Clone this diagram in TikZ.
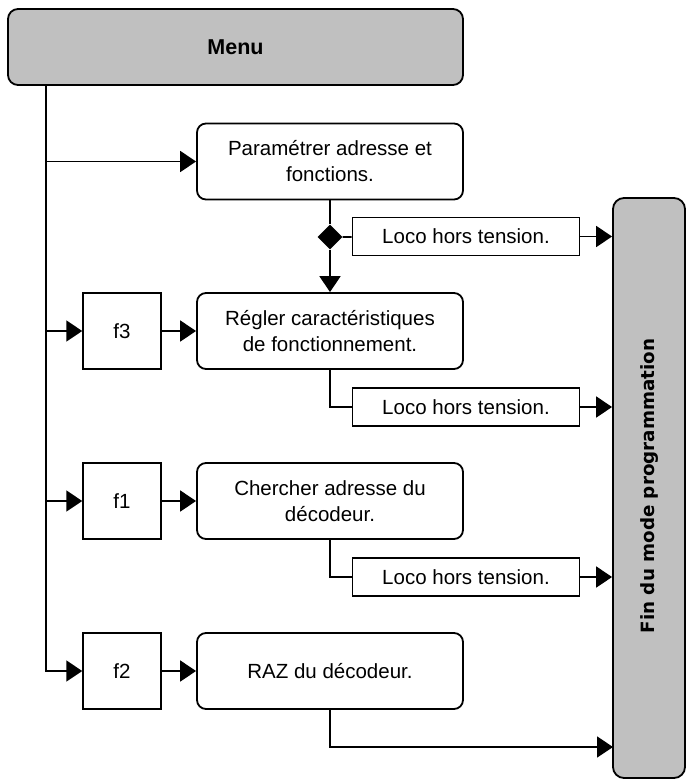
\documentclass[tikz,border=0pt]{standalone}
\usepackage{fontspec}
\setmainfont{Liberation Sans}
\newfontfamily\finFont{DejaVu Sans}
\usetikzlibrary{positioning, shapes.geometric, arrows.meta}
\tikzstyle{diagram} = [x = 1pt, y = -1pt]
\definecolor{boxGray}{RGB}{192,192,192}
\newcommand{\boxFont}{\fontsize{20.5}{26}\selectfont}
\tikzstyle{menuStyle} = [draw, fill=boxGray, rounded corners = 10pt, line width = 1.8pt, minimum width = 455pt, minimum height = 76pt, font=\fontsize{21.5}{26}\selectfont\bfseries]
\tikzstyle{finStyle} = [draw, fill=boxGray, rounded corners = 11pt, line width = 1.8pt, minimum width = 72pt, minimum height = 580pt]
\tikzstyle{stepStyle} = [draw, fill=white, rounded corners = 9pt, line width = 1.8pt, minimum width = 266pt, minimum height = 76pt, align=center, font=\boxFont]
\tikzstyle{keyStyle} = [draw, line width = 1.5pt, minimum width = 78pt, minimum height = 76pt, font=\boxFont]
\tikzstyle{locoStyle} = [draw, line width = 1.6pt, minimum width = 227pt, minimum height = 38pt, font=\boxFont]
\tikzstyle{lineStyle} = [line width = 1.7pt]
\tikzstyle{arrowStyle} = [lineStyle, -{Triangle[length=16pt, width=21pt]}]
\tikzstyle{decisionStyle} = [diamond, fill=black, inner sep = 0pt, minimum width = 25pt, minimum height = 25pt]

\begin{document}
\begin{tikzpicture}[diagram]
        \useasboundingbox (0,0) rectangle (688,782);
        \node [menuStyle] (menu) at (235.5,47) {Menu};
        \node [finStyle] (fin) at (649,488) {};
        \node [rotate=90, font=\fontsize{18.3}{24}\finFont\bfseries] (finText) at (650,486) {Fin du mode programmation};

        \node [stepStyle] (param) at (330,161.5) {Paramétrer adresse et\\fonctions.};
        \node [stepStyle] (regler) at (330,331) {Régler caractéristiques\\de fonctionnement.};
        \node [stepStyle] (chercher) at (330,501) {Chercher adresse du\\décodeur.};
        \node [stepStyle] (raz) at (330,671) {RAZ du décodeur.};

        \node [keyStyle] (fThree) at (122,331) {f3};
        \node [keyStyle] (fOne) at (122,501) {f1};
        \node [keyStyle] (fTwo) at (122,671) {f2};

        \node [locoStyle] (locoParam) at (466,236.5) {Loco hors tension.};
        \node [locoStyle] (locoRegler) at (466,407) {Loco hors tension.};
        \node [locoStyle] (locoChercher) at (466,577) {Loco hors tension.};
        \node [decisionStyle] (decision) at (330,237) {};

        \coordinate (trunk) at (46,85);
        \coordinate (razEnd) at (613,747);

        \draw [arrowStyle] (trunk) |- (fTwo);
        \draw [arrowStyle] (trunk |- param) -- (param);
        \draw [arrowStyle] (trunk |- fThree) -- (fThree);
        \draw [arrowStyle] (trunk |- fOne) -- (fOne);
        \draw [arrowStyle] (fThree) -- (regler);
        \draw [arrowStyle] (fOne) -- (chercher);
        \draw [arrowStyle] (fTwo) -- (raz);

        \draw [lineStyle] (param) -- (decision);
        \draw [arrowStyle] (decision) -- (regler);
        \draw [lineStyle] (decision) -- (locoParam);
        \draw [lineStyle] (regler) |- (locoRegler);
        \draw [lineStyle] (chercher) |- (locoChercher);
        \draw [arrowStyle] (raz) |- (razEnd);

        \draw [arrowStyle] (locoParam) -- (locoParam -| fin.west);
        \draw [arrowStyle] (locoRegler) -- (locoRegler -| fin.west);
        \draw [arrowStyle] (locoChercher) -- (locoChercher -| fin.west);
      \end{tikzpicture}
\end{document}
